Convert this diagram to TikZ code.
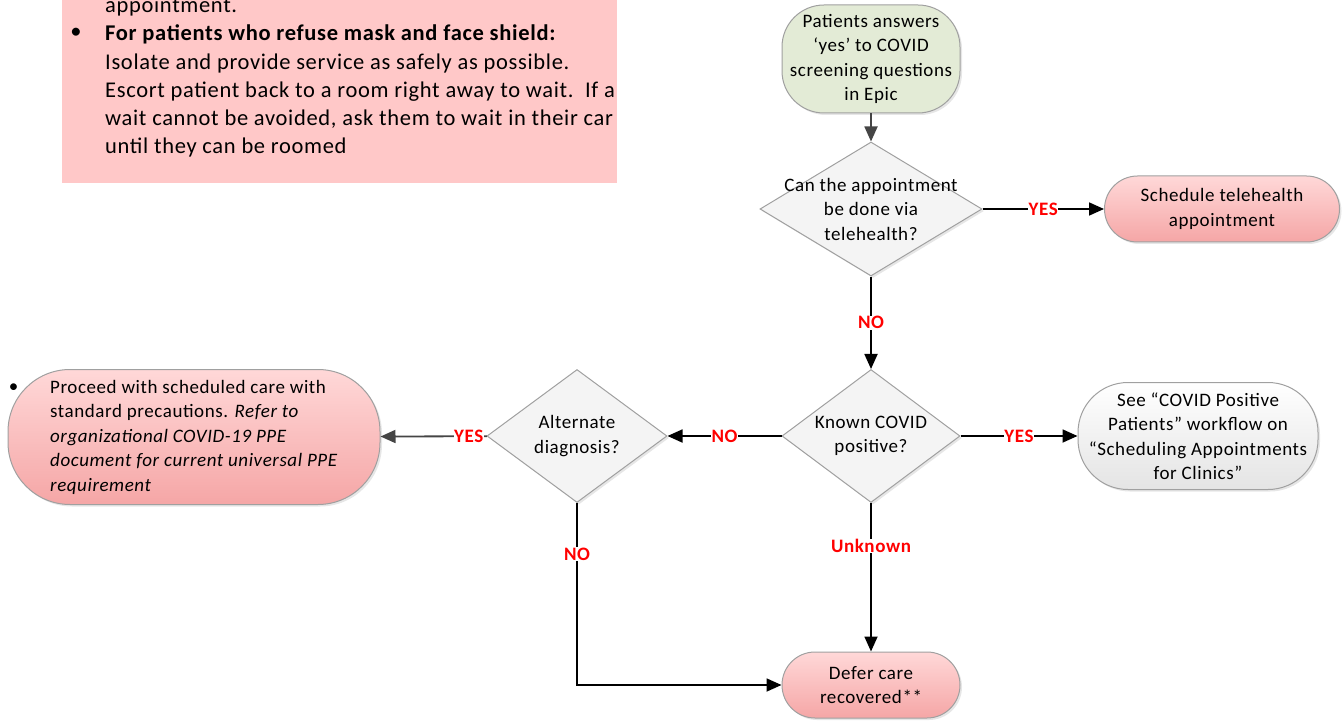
\documentclass[tikz,border=0pt]{standalone}
\usepackage{fontspec}
\setmainfont{Carlito}
\usetikzlibrary{arrows.meta,shapes.geometric,shadows}
\definecolor{notepink}{HTML}{FFC8C8}
\definecolor{startgreen}{HTML}{E3EBD6}
\definecolor{edgegray}{HTML}{A0A0A0}
\definecolor{decfill}{HTML}{F4F4F4}
\definecolor{pinktop}{HTML}{FFD8D8}
\definecolor{pinkbot}{HTML}{F5A6A6}
\definecolor{graybot}{HTML}{E4E4E4}
\definecolor{arrowgray}{HTML}{454545}
\definecolor{ansred}{HTML}{FF0000}
\newcommand{\flowfont}{\fontsize{19}{24.5}\selectfont\addfontfeatures{LetterSpace=3}}
\newcommand{\notefont}{\fontsize{22.5}{28.2}\selectfont\addfontfeatures{LetterSpace=3}}

\begin{document}
\begin{tikzpicture}[x=1pt,y=-1pt,font=\flowfont,
  flow/.style={draw=edgegray,line width=1pt,align=center,inner sep=0pt,
    drop shadow={shadow xshift=2pt,shadow yshift=-2pt,opacity=0.2}},
  pinkbox/.style={flow,top color=pinktop,bottom color=pinkbot},
  graybox/.style={flow,top color=white,bottom color=graybot},
  decision/.style={diamond,draw=edgegray,line width=1pt,fill=decfill,inner sep=0pt,
    drop shadow={shadow xshift=2pt,shadow yshift=-2pt,opacity=0.2}},
  link/.style={line width=1.8pt,-{Triangle[length=15pt,width=13pt]}},
  answer/.style={fill=white,text=ansred,inner sep=0.5pt,
    font=\fontsize{19}{20}\selectfont\bfseries\addfontfeatures{LetterSpace=3}}]
\useasboundingbox (0,0) rectangle (1342,722);

% note box, top left
\fill[notepink] (62,-5) rectangle (617,183);
\node[anchor=north west,align=left,inner sep=0pt,font=\notefont] (note) at (105,-3)
  {appointment.\\
   \textbf{For patients who refuse mask and face shield:}\\
   Isolate and provide service as safely as possible.\\
   Escort patient back to a room right away to wait.\ \ If a\\
   wait cannot be avoided, ask them to wait in their car\\
   until they can be roomed};
\node[font=\notefont] (dot) at (76,33) {\textbullet};

% flow nodes
\node[flow,fill=startgreen,rounded corners=42pt,minimum width=178pt,minimum height=108pt] (1) at (871,59)
  {Patients answers\\‘yes’ to COVID\\screening questions\\in Epic};
\node[decision,minimum width=222pt,minimum height=134pt,
  label={[align=center]center:Can the appointment\\be done via\\telehealth?}] (2) at (871,209) {};
\node[pinkbox,rounded corners=33pt,minimum width=235pt,minimum height=66pt] (3) at (1222,209)
  {Schedule telehealth\\appointment};
\node[decision,minimum width=178pt,minimum height=133pt,
  label={[align=center]center:Known COVID\\positive?}] (4) at (871,436) {};
\node[graybox,rounded corners=50pt,minimum width=240pt,minimum height=107pt] (5) at (1198,436)
  {See “COVID Positive\\Patients” workflow on\\“Scheduling Appointments\\for Clinics”};
\node[decision,minimum width=180pt,minimum height=133pt,
  label={[align=center]center:Alternate\\diagnosis?}] (6) at (577,436) {};
\node[pinkbox,rounded corners=62pt,minimum width=372pt,minimum height=135pt,align=left,
  label={[anchor=center,xshift=6pt,yshift=49pt]west:\textbullet}] (7) at (194,437)
  {Proceed with scheduled care with\\
   standard precautions. \textit{Refer to}\\
   \textit{organizational COVID-19 PPE}\\
   \textit{document for current universal PPE}\\
   \textit{requirement}};
\node[pinkbox,rounded corners=33pt,minimum width=178pt,minimum height=66pt] (8) at (871,685)
  {Defer care\\recovered**};

% connectors
\draw[link,draw=arrowgray] (1) -- (2);
\draw[link] (2) -- node[answer] {YES} (3);
\draw[link] (2) -- node[answer] {NO} (4);
\draw[link] (4) -- node[answer] {YES} (5);
\draw[link] (4) -- node[answer] {NO} (6);
\draw[link,draw=arrowgray] (6) -- node[answer,pos=0.17] {YES} (7);
\draw[link] (6) |- node[answer,pos=0.14] {NO} (8);
\draw[link] (4) -- node[answer,pos=0.29] {Unknown} (8);
\end{tikzpicture}
\end{document}
